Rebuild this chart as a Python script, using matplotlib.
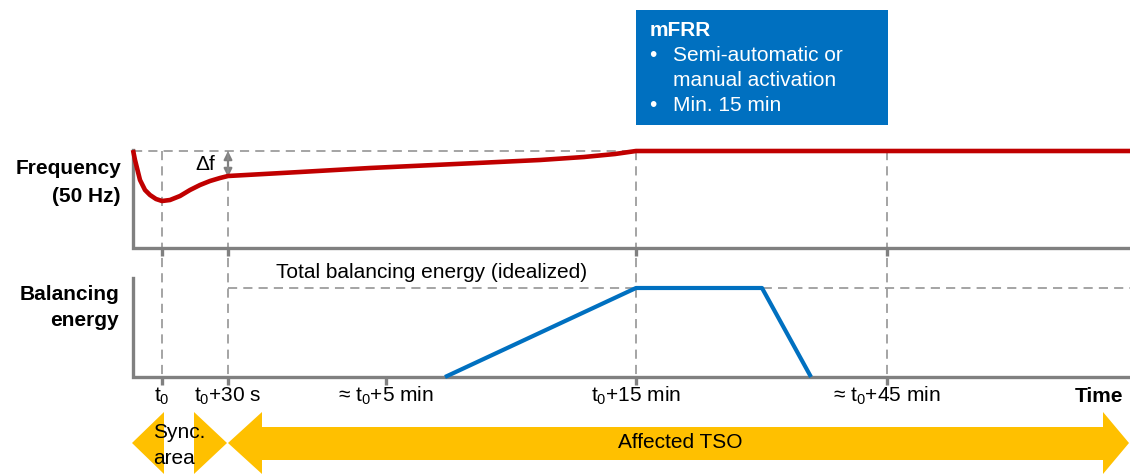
import matplotlib.pyplot as plt
from matplotlib.patches import Polygon, Rectangle, FancyArrowPatch

plt.rcParams['font.family'] = ['Liberation Sans', 'DejaVu Sans']
plt.rcParams['mathtext.fontset'] = 'custom'
plt.rcParams['mathtext.rm'] = 'Liberation Sans'
plt.rcParams['mathtext.it'] = 'Liberation Sans'

# schematic, coordinates in picture pixels (y grows downward)
freq_x = [133, 135, 140, 145, 150, 156, 162, 170, 180, 190, 200, 210, 220, 228,
          300, 370, 477, 540, 584, 615, 636, 1130]
freq_y = [150, 160, 180, 190, 195, 199, 201, 200, 196, 190, 185, 181, 178, 176,
          172, 168, 163, 160, 157, 154, 151, 151]

energy_x = [445, 636, 762, 811]
energy_y = [377, 288, 288, 377]

tick_x = [162, 228, 386, 636, 887]
tick_labels = ['t$_0$', 't$_0$+30 s', '\u2248 t$_0$+5 min', 't$_0$+15 min', '\u2248 t$_0$+45 min']
guide_x = [162, 228, 636, 887]

box_lines = ['Semi-automatic or', 'manual activation', 'Min. 15 min']
box_bullets = [True, False, True]

GREY = '#808080'
RED = '#C00000'
BLUE = '#0070C0'
YELLOW = '#FFC000'

fig = plt.figure(figsize=(11.3, 4.74), dpi=100)
ax = fig.add_axes([0, 0, 1, 1])
ax.set_xlim(0, 1130)
ax.set_ylim(474, 0)
ax.axis('off')

dash = dict(color='#8c8c8c', lw=1.1, ls=(0, (6, 4)))

# guide lines
ax.plot([133, 636], [151, 151], **dash)
for x in guide_x:
    ax.plot([x, x], [151, 377], **dash)
ax.plot([228, 1130], [288, 288], **dash)

# axes
ax.plot([133, 133, 1130], [150, 248, 248], color=GREY, lw=2.4, solid_joinstyle='miter')
ax.plot([133, 133, 1130], [278, 377, 377], color=GREY, lw=2.4, solid_joinstyle='miter')
for x in [162, 228, 636, 887]:
    ax.plot([x, x], [248, 256], color=GREY, lw=2.4, solid_capstyle='butt')
for x in tick_x:
    ax.plot([x, x], [377, 385], color=GREY, lw=2.4, solid_capstyle='butt')

# curves
ax.plot(freq_x, freq_y, color=RED, lw=3.3, solid_capstyle='butt')
ax.plot(energy_x, energy_y, color=BLUE, lw=3.0, solid_capstyle='butt')

# delta f arrow
ax.add_patch(FancyArrowPatch((228, 177), (228, 151), arrowstyle='<|-|>', mutation_scale=12,
                             color=GREY, lw=1.6, shrinkA=0, shrinkB=0))
ax.text(205, 165, '\u0394f', fontsize=15, ha='center', va='center')

# row labels
ax.text(121, 169, 'Frequency', fontsize=15, fontweight='bold', ha='right', va='center')
ax.text(121, 197, '(50 Hz)', fontsize=15, fontweight='bold', ha='right', va='center')
ax.text(119, 295, 'Balancing', fontsize=15, fontweight='bold', ha='right', va='center')
ax.text(119, 321, 'energy', fontsize=15, fontweight='bold', ha='right', va='center')

ax.text(432, 273, 'Total balancing energy (idealized)', fontsize=15, ha='center', va='center')

# tick labels
for x, lab in zip(tick_x, tick_labels):
    ax.text(x, 396, lab, fontsize=15, ha='center', va='center')
ax.text(1123, 396, 'Time', fontsize=15, fontweight='bold', ha='right', va='center')

# mFRR box
ax.add_patch(Rectangle((636, 10), 252, 115, color=BLUE, lw=0))
ax.text(650, 30, 'mFRR', fontsize=15, fontweight='bold', color='white', ha='left', va='center')
for i, (line, bullet) in enumerate(zip(box_lines, box_bullets)):
    y = 55 + 25 * i
    if bullet:
        ax.text(653, y, '\u2022', fontsize=15, color='white', ha='center', va='center')
    ax.text(673, y, line, fontsize=15, color='white', ha='left', va='center')

# yellow arrows
ax.add_patch(Polygon([(132, 443), (164, 412), (164, 474)], closed=True, color=YELLOW, lw=0))
ax.add_patch(Polygon([(194, 412), (227, 443), (194, 474)], closed=True, color=YELLOW, lw=0))
ax.add_patch(Polygon([(228, 443), (262, 412), (262, 427), (1103, 427), (1103, 412),
                      (1129, 443), (1103, 474), (1103, 460), (262, 460), (262, 474)],
                     closed=True, color=YELLOW, lw=0))
ax.text(153, 432, 'Sync.', fontsize=15, ha='left', va='center')
ax.text(153, 458, 'area', fontsize=15, ha='left', va='center')
ax.text(680, 443, 'Affected TSO', fontsize=15, ha='center', va='center')

fig.savefig('out.png', dpi=100)
